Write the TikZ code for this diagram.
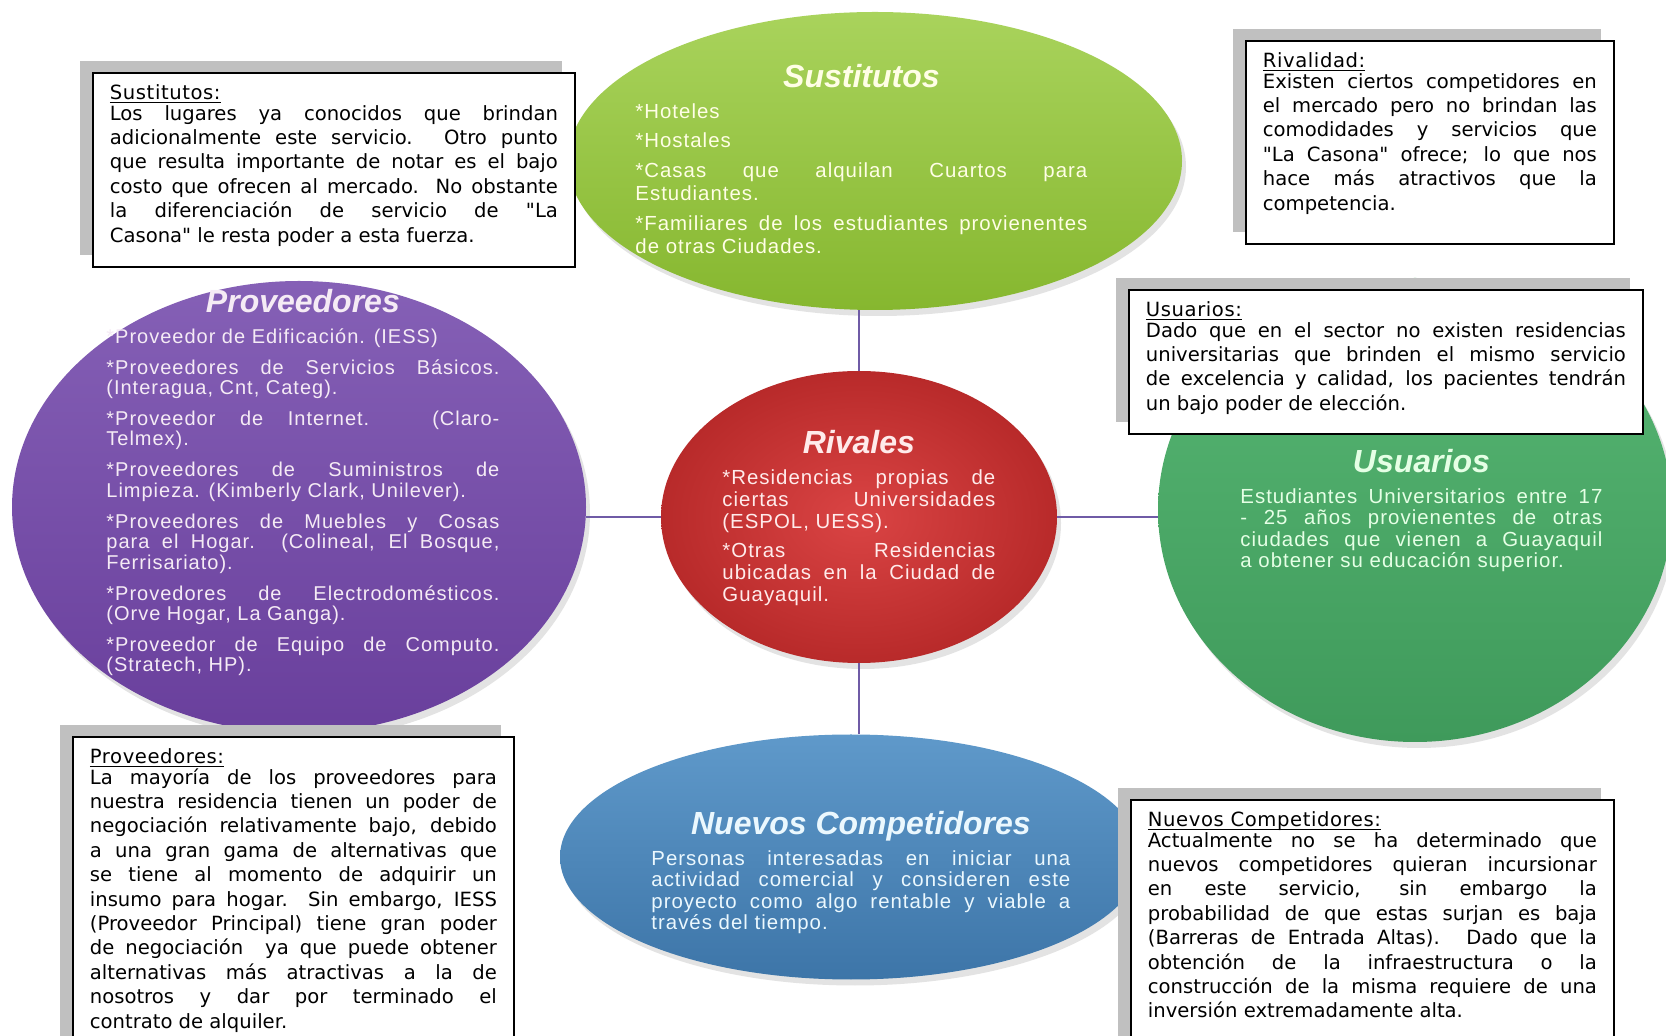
\documentclass[tikz,border=0pt]{standalone}
\usepackage{fontspec}
\setmainfont{Liberation Sans}
\newfontfamily\notefont{DejaVu Sans}
\newfontfamily\noteheadfont[LetterSpace=3]{DejaVu Sans}
\newfontfamily\forcefont[LetterSpace=5]{Liberation Sans}
\usetikzlibrary{shapes.geometric,shadows,positioning}

\definecolor{sustgreen}{HTML}{A9D35C}
\definecolor{sustgreendark}{HTML}{86B72F}
\definecolor{provpurple}{HTML}{8560B6}
\definecolor{provpurpledark}{HTML}{693F9C}
\definecolor{rivred}{HTML}{DA4444}
\definecolor{rivreddark}{HTML}{B82A2A}
\definecolor{usugreen}{HTML}{58B774}
\definecolor{usugreendark}{HTML}{3F9A5B}
\definecolor{nuevoblue}{HTML}{5F99CA}
\definecolor{nuevobluedark}{HTML}{3D75A8}
\definecolor{linkpurple}{HTML}{6F5BA6}
\definecolor{shadowgrey}{HTML}{C0C0C0}

\newcommand\notehead[1]{\setbox0\hbox{\noteheadfont #1}\rlap{\rule[-1.5pt]{\wd0}{.6pt}}\box0\\[-2pt]}
\newcommand\noteend[1]{\rule[-#1]{0pt}{0pt}}
\newcommand\forcebody[2]{\forcefont\fontsize{#1}{#2}\selectfont\parindent=0pt\tolerance=10000\hbadness=10000}

\begin{document}
\begin{tikzpicture}[x=0.5pt,y=-0.5pt,node distance=4pt,
  force/.style={ellipse,inner sep=0pt,drop shadow={opacity=.22,shadow xshift=2pt,shadow yshift=-3pt}},
  force title/.style={inner sep=0pt,text height=11.5pt,text depth=3.5pt,font=\fontsize{16}{18}\selectfont\bfseries\itshape},
  force text/.style={anchor=north west,inner sep=0pt,align=justify},
  link/.style={draw=linkpurple,line width=1.2pt},
  note/.style={draw,line width=.9pt,fill=white,anchor=north west,align=justify,inner xsep=8.5pt,inner ysep=6pt,
    font={\notefont\fontsize{9.8}{12.2}\selectfont\parindent=0pt\tolerance=10000\hbadness=10000},
    drop shadow={fill=shadowgrey,opacity=1,shadow xshift=-6.5pt,shadow yshift=6pt}}]
\fill[white] (0,0) rectangle (1666,1036);
\useasboundingbox (0,0) rectangle (1666,1036);

% the five forces
\begin{scope}
\node[force,minimum width=307pt,minimum height=149pt,top color=sustgreen,bottom color=sustgreendark] (sust) at (875,161) {};
\node[force,minimum width=287pt,minimum height=226pt,top color=provpurple,bottom color=provpurpledark] (prov) at (299,507) {};
\node[force,minimum width=198pt,minimum height=146pt,inner color=rivred,outer color=rivreddark] (riv) at (859,517) {};
\node[force,minimum width=257pt,minimum height=232pt,top color=usugreen,bottom color=usugreendark] (usu) at (1415,510) {};
\node[force,minimum width=291pt,minimum height=122.5pt,top color=nuevoblue,bottom color=nuevobluedark] (nuevo) at (851,857) {};
\end{scope}

\begin{scope}
\draw[link] (riv.north) -- (riv.north |- sust.south);
\draw[link] (riv.west) -- (riv.west -| prov.east);
\draw[link] (riv.east) -- (riv.east -| usu.west);
\draw[link] (riv.south) -- (riv.south |- nuevo.north);
\end{scope}

% texts inside the ovals
\begin{scope}[every node/.append style={text=white!90!yellow}]
\node[force text,text width=226pt,font={\forcebody{10.2}{11.4}\parskip=3.5pt}] (sustB) at (635,103)
  {*Hoteles\par *Hostales\par *Casas que alquilan Cuartos para\linebreak Estudiantes.\par
   *Familiares de los estudiantes provienentes\linebreak de otras Ciudades.};
\node[force title,above=of sustB] (sustT) {Sustitutos};
\end{scope}

\begin{scope}[every node/.append style={text=white!92!violet}]
\node[force text,text width=196.5pt,font={\forcebody{10}{10.2}\parskip=5.3pt}] (provB) at (106,328)
  {*Proveedor de Edificación. (IESS)\par
   *Proveedores de Servicios Básicos.\linebreak (Interagua, Cnt, Categ).\par
   *Proveedor de Internet. (Claro-\linebreak Telmex).\par
   *Proveedores de Suministros de\linebreak Limpieza. (Kimberly Clark, Unilever).\par
   *Proveedores de Muebles y Cosas\linebreak para el Hogar. (Colineal, El Bosque,\linebreak Ferrisariato).\par
   *Provedores de Electrodomésticos.\linebreak (Orve Hogar, La Ganga).\par
   *Proveedor de Equipo de Computo.\linebreak (Stratech, HP).};
\node[force title,above=of provB] (provT) {Proveedores};
\end{scope}

\begin{scope}[every node/.append style={text=white!92!red}]
\node[force text,text width=136.5pt,font={\forcebody{10.2}{11}\parskip=3.5pt}] (rivB) at (722,469)
  {*Residencias propias de\linebreak ciertas Universidades\linebreak (ESPOL, UESS).\par
   *Otras Residencias\linebreak ubicadas en la Ciudad de\linebreak Guayaquil.};
\node[force title,above=of rivB] (rivT) {Rivales};
\end{scope}

\begin{scope}[every node/.append style={text=white!90!green}]
\node[force text,text width=181pt,font={\forcebody{10.2}{10.8}}] (usuB) at (1240,488)
  {Estudiantes Universitarios entre 17\linebreak - 25 años provienentes de otras\linebreak
   ciudades que vienen a Guayaquil\linebreak a obtener su educación superior.};
\node[force title,above=of usuB] (usuT) {Usuarios};
\end{scope}

\begin{scope}[every node/.append style={text=white!92!cyan}]
\node[force text,text width=209.5pt,font={\forcebody{10.2}{10.8}}] (nuevoB) at (651,850)
  {Personas interesadas en iniciar una\linebreak actividad comercial y consideren este\linebreak
   proyecto como algo rentable y viable a\linebreak través del tiempo.};
\node[force title,above=of nuevoB] (nuevoT) {Nuevos Competidores};
\end{scope}

% boxes with the analysis of each force
\begin{scope}
\node[note,text width=224pt] (sustN) at (92,72)
  {\notehead{Sustitutos:}Los lugares ya conocidos que brindan\linebreak adicionalmente este servicio. Otro punto\linebreak
   que resulta importante de notar es el bajo\linebreak costo que ofrecen al mercado. No obstante\linebreak
   la diferenciación de servicio de "La\linebreak Casona" le resta poder a esta fuerza.\noteend{6.6pt}};
\node[note,text width=167pt] (rivN) at (1245,40)
  {\notehead{Rivalidad:}Existen ciertos competidores en\linebreak el mercado pero no brindan las\linebreak
   comodidades y servicios que\linebreak "La Casona" ofrece; lo que nos\linebreak
   hace más atractivos que la\linebreak competencia.\noteend{10.8pt}};
\node[note,text width=240pt] (usuN) at (1128,289)
  {\notehead{Usuarios:}Dado que en el sector no existen residencias\linebreak universitarias que brinden el mismo servicio\linebreak
   de excelencia y calidad, los pacientes tendrán\linebreak un bajo poder de elección.\noteend{6pt}};
\node[note,text width=203.5pt] (provN) at (72,736)
  {\notehead{Proveedores:}La mayoría de los proveedores para\linebreak nuestra residencia tienen un poder de\linebreak
   negociación relativamente bajo, debido\linebreak a una gran gama de alternativas que\linebreak
   se tiene al momento de adquirir un\linebreak insumo para hogar. Sin embargo, IESS\linebreak
   (Proveedor Principal) tiene gran poder\linebreak de negociación\ \ ya que puede obtener\linebreak
   alternativas más atractivas a la de\linebreak nosotros y dar por terminado el\linebreak
   contrato de alquiler.\noteend{20pt}};
\node[note,text width=224.5pt] (nuevoN) at (1130,799)
  {\notehead{Nuevos Competidores:}Actualmente no se ha determinado que\linebreak nuevos competidores quieran incursionar\linebreak
   en este servicio, sin embargo la\linebreak probabilidad de que estas surjan es baja\linebreak
   (Barreras de Entrada Altas). Dado que la\linebreak obtención de la infraestructura o la\linebreak
   construcción de la misma requiere de una\linebreak inversión extremadamente alta.\noteend{20pt}};
\end{scope}
\end{tikzpicture}
\end{document}
